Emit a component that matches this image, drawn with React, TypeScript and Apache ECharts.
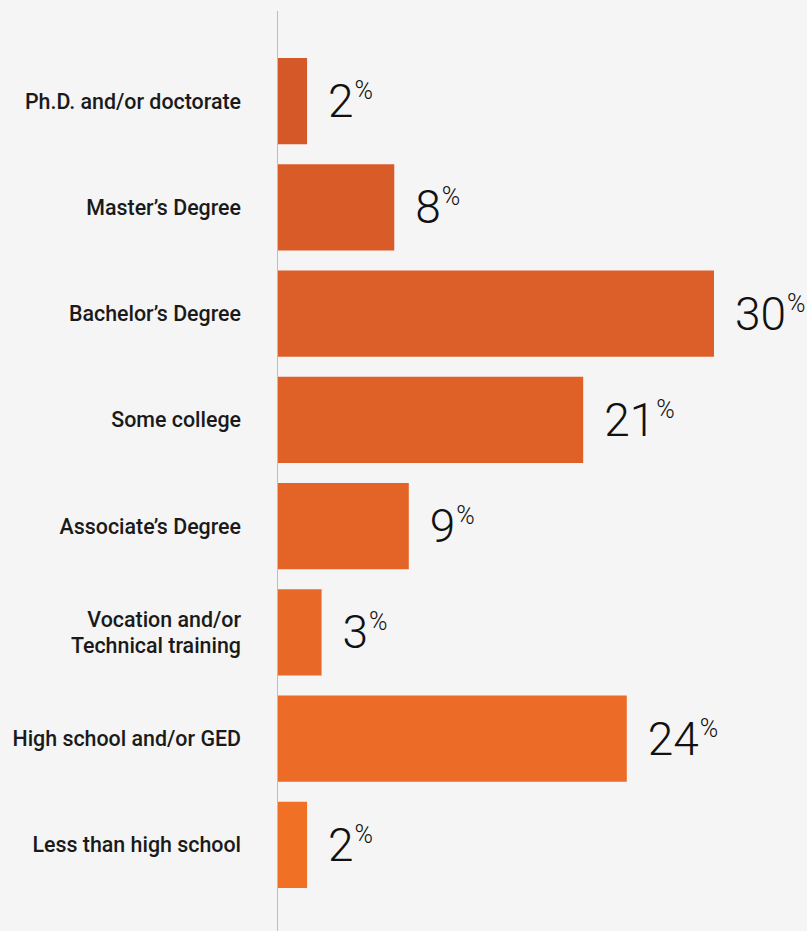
import React, { useEffect, useRef } from "react";
import * as echarts from "echarts";

const categories = [
  "Ph.D. and/or doctorate",
  "Master’s Degree",
  "Bachelor’s Degree",
  "Some college",
  "Associate’s Degree",
  "Vocation and/or\nTechnical training",
  "High school and/or GED",
  "Less than high school",
];
const values = [2, 8, 30, 21, 9, 3, 24, 2];
const barColors = ["#d55829", "#d95b28", "#dc5e28", "#e06128", "#e46427", "#e86827", "#ec6b26", "#f07026"];

export default function App() {
  const ref = useRef<HTMLDivElement>(null);
  useEffect(() => {
    const chart = echarts.init(ref.current!, null, { renderer: "svg" });
    chart.setOption({
      animation: false,
      backgroundColor: "#f5f5f5",
      grid: { left: 278, top: 48, height: 850, width: 436 },
      xAxis: {
        type: "value",
        min: 0,
        max: 30,
        show: false,
      },
      yAxis: {
        type: "category",
        inverse: true,
        data: categories,
        axisLine: { show: false },
        axisTick: { show: false },
        axisLabel: {
          margin: 37,
          color: "#1a1a1a",
          fontFamily: "Roboto",
          fontWeight: 500,
          fontSize: 21.4,
          lineHeight: 26,
          align: "right",
        },
      },
      graphic: [
        {
          type: "line",
          shape: { x1: 277.5, y1: 11, x2: 277.5, y2: 931 },
          style: { stroke: "#bdbdbd", lineWidth: 1 },
          z: 10,
        },
      ],
      series: [
        {
          type: "bar",
          data: values.map((v, i) => ({ value: v, itemStyle: { color: barColors[i] } })),
          barCategoryGap: "19%",
          label: {
            show: true,
            position: "right",
            distance: 21,
            formatter: (p: any) => `{a|${p.value}}{b|%}`,
            rich: {
              a: { fontFamily: "Roboto", fontWeight: 300, fontSize: 46, lineHeight: 46, color: "#111" },
              b: { fontFamily: "Roboto", fontWeight: 300, fontSize: 25, lineHeight: 25, color: "#111", verticalAlign: "top", padding: [0, 0, 0, 1] },
            },
          },
        },
      ],
    });
    return () => chart.dispose();
  }, []);
  return <div ref={ref} style={{ position: "fixed", left: 0, top: 0, width: 807, height: 931 }} />;
}
